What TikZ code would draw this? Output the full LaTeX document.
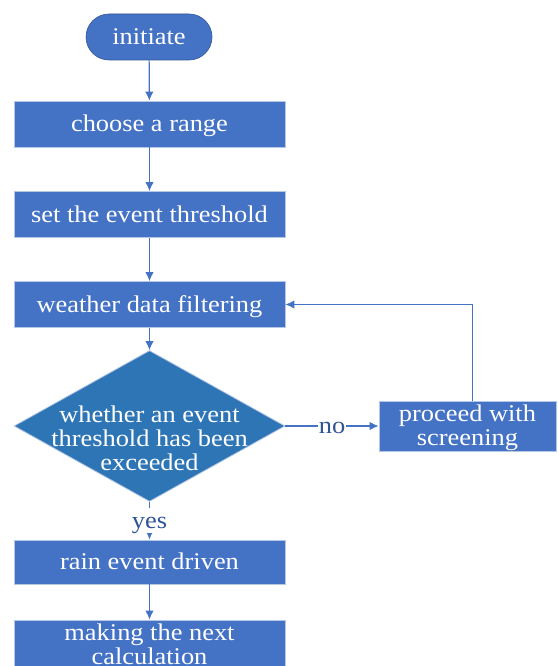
\documentclass[tikz,border=0pt]{standalone}
\usepackage{fontspec}
\setmainfont{Liberation Serif}[FakeStretch=1.1]
\usetikzlibrary{shapes.geometric,arrows.meta}
\definecolor{boxblue}{HTML}{4472C4}
\definecolor{decblue}{HTML}{2E75B6}
\definecolor{edgegray}{HTML}{B4C7E7}
\definecolor{txtblue}{HTML}{2F5597}

\begin{document}
\begin{tikzpicture}[x=1pt,y=-1pt,
		font=\fontsize{24}{24}\selectfont,
		box/.style={rectangle,fill=boxblue,draw=edgegray,line width=.8pt,text=white,align=center,minimum width=271pt,minimum height=46pt,inner sep=0pt},
		oneline/.style={text height=19pt,text depth=4pt},
		startbox/.style={rectangle,rounded corners=23pt,fill=boxblue,draw=txtblue,line width=.6pt,text=white,minimum width=126pt,minimum height=46pt,inner sep=0pt,oneline},
		decbox/.style={diamond,fill=decblue,draw=edgegray,line width=.8pt,minimum width=271pt,minimum height=151pt,inner sep=0pt},
		conn/.style={draw=boxblue,line width=1.2pt,-{Latex[length=9pt,width=8.5pt]}},
		answer/.style={fill=white,text=txtblue,inner sep=1pt,oneline}]
		\useasboundingbox (0,0) rectangle (557,666);
		
		\node[startbox] (init) at (149,37) {initiate};
		\node[box,oneline] (range) at (149.5,124) {choose a range};
		\node[box,oneline] (thres) at (149.5,214.5) {set the event threshold};
		\node[box,oneline] (filter) at (149.5,304.5) {weather data filtering};
		\node[decbox] (dec) at (149.5,426) {};
		\node[text=white,align=center] (dectxt) at ([yshift=-12pt]dec.center) {whether an event\\threshold has been\\exceeded};
		\node[box,minimum width=177pt,minimum height=50pt,text height=44.5pt,text depth=5pt] (screen) at (467.5,426) {proceed with\\screening};
		\node[box,oneline,minimum height=44pt] (rain) at (149.5,562) {rain event driven};
		\node[box,minimum height=48pt] (calc) at (149.5,644) {making the next\\calculation};
		
		\draw[conn] (init) -- (range);
		\draw[conn] (range) -- (thres);
		\draw[conn] (thres) -- (filter);
		\draw[conn] (filter) -- (dec);
		\draw[conn] (dec.east) -- node[answer]{no} (screen.west);
		\draw[conn] ([xshift=5pt]screen.north) |- (filter.east);
		\draw[conn] (dec.south) -- node[answer]{yes} (rain.north);
		\draw[conn] (rain) -- (calc);
		
	\end{tikzpicture}
\end{document}
